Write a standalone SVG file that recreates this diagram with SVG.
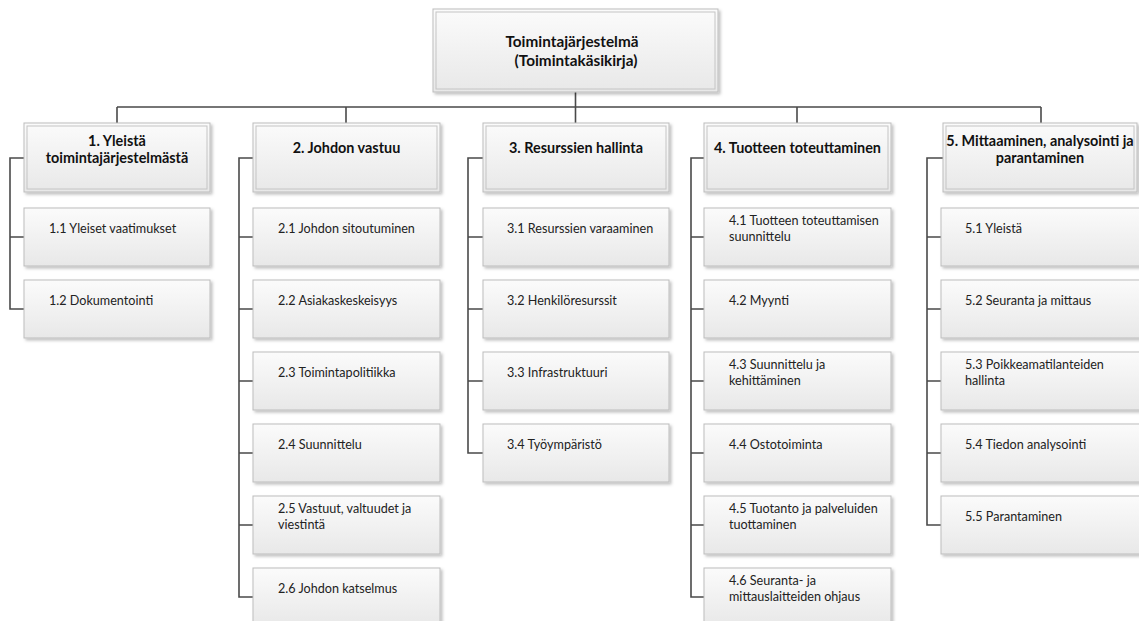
<svg xmlns="http://www.w3.org/2000/svg" width="1139" height="621" viewBox="0 0 1139 621">
  <defs>
    <linearGradient id="boxFill" x1="0" y1="0" x2="0" y2="1">
      <stop offset="0" stop-color="#fbfbfb"/>
      <stop offset="1" stop-color="#e8e8e8"/>
    </linearGradient>
    <filter id="shadow" x="-5%" y="-10%" width="115%" height="130%">
      <feDropShadow dx="2" dy="2" stdDeviation="1.6" flood-color="#000" flood-opacity="0.25"/>
    </filter>
    <style>
      .box { fill: url(#boxFill); stroke: #bdbdbd; stroke-width: 1; filter: url(#shadow); }
      .inner { fill: none; stroke: #c4c4c4; stroke-width: 1; }
      .conn { fill: none; stroke: #4a4a4a; stroke-width: 1.6; }
      .title { font-family: Lato, "Liberation Sans", sans-serif; font-weight: bold; font-size: 14.4px; fill: #111; text-anchor: middle; }
      .root { font-size: 15.3px; }
      .item { font-family: Lato, "Liberation Sans", sans-serif; font-size: 12.6px; fill: #222; }
    </style>
  </defs>
  <rect width="1139" height="621" fill="#ffffff"/>

  <!-- connectors -->
  <g id="connectors">
    <path class="conn" d="M575.5 92 V107 M117 107 H1041 M117 107 V123 M346 107 V123 M575.5 107 V123 M797 107 V123 M1041 107 V123"/>
    <path class="conn" d="M24 158 H10 V309 H24 M10 237 H24"/>
    <path class="conn" d="M253 158 H239 V597 H253 M239 237 H253 M239 309 H253 M239 381 H253 M239 453 H253 M239 525 H253"/>
    <path class="conn" d="M483 158 H468 V453 H483 M468 237 H483 M468 309 H483 M468 381 H483"/>
    <path class="conn" d="M704 158 H691 V597 H704 M691 237 H704 M691 309 H704 M691 381 H704 M691 453 H704 M691 525 H704"/>
    <path class="conn" d="M943 158 H927 V525 H941 M927 237 H941 M927 309 H941 M927 381 H941 M927 453 H941"/>
  </g>

  <!-- root -->
  <g id="root">
    <rect class="box" x="433" y="9" width="285" height="83"/>
    <rect class="inner" x="436" y="12" width="279" height="77"/>
    <text class="title root" x="572" y="47">Toimintajärjestelmä</text>
    <text class="title root" x="576" y="66">(Toimintakäsikirja)</text>
  </g>

  <!-- column 1 -->
  <g id="h1">
    <rect class="box" x="24" y="123" width="186" height="69"/>
    <rect class="inner" x="27" y="126" width="180" height="63"/>
    <text class="title" x="117" y="146">1. Yleistä</text>
    <text class="title" x="117" y="163">toimintajärjestelmästä</text>
  </g>
  <g id="n1-1">
    <rect class="box" x="24" y="208" width="186" height="58"/>
    <text class="item" x="49" y="233">1.1 Yleiset vaatimukset</text>
  </g>
  <g id="n1-2">
    <rect class="box" x="24" y="280" width="186" height="58"/>
    <text class="item" x="49" y="305">1.2 Dokumentointi</text>
  </g>

  <!-- column 2 -->
  <g id="h2">
    <rect class="box" x="253" y="123" width="187" height="69"/>
    <rect class="inner" x="256" y="126" width="181" height="63"/>
    <text class="title" x="346.5" y="153">2. Johdon vastuu</text>
  </g>
  <g id="n2-1">
    <rect class="box" x="253" y="208" width="187" height="58"/>
    <text class="item" x="278" y="233">2.1 Johdon sitoutuminen</text>
  </g>
  <g id="n2-2">
    <rect class="box" x="253" y="280" width="187" height="58"/>
    <text class="item" x="278" y="305">2.2 Asiakaskeskeisyys</text>
  </g>
  <g id="n2-3">
    <rect class="box" x="253" y="352" width="187" height="58"/>
    <text class="item" x="278" y="377">2.3 Toimintapolitiikka</text>
  </g>
  <g id="n2-4">
    <rect class="box" x="253" y="424" width="187" height="58"/>
    <text class="item" x="278" y="449">2.4 Suunnittelu</text>
  </g>
  <g id="n2-5">
    <rect class="box" x="253" y="496" width="187" height="58"/>
    <text class="item" x="278" y="513">2.5 Vastuut, valtuudet ja</text>
    <text class="item" x="278" y="529">viestintä</text>
  </g>
  <g id="n2-6">
    <rect class="box" x="253" y="568" width="187" height="58"/>
    <text class="item" x="278" y="593">2.6 Johdon katselmus</text>
  </g>

  <!-- column 3 -->
  <g id="h3">
    <rect class="box" x="483" y="123" width="186" height="69"/>
    <rect class="inner" x="486" y="126" width="180" height="63"/>
    <text class="title" x="576" y="153">3. Resurssien hallinta</text>
  </g>
  <g id="n3-1">
    <rect class="box" x="483" y="208" width="186" height="58"/>
    <text class="item" x="507" y="233">3.1 Resurssien varaaminen</text>
  </g>
  <g id="n3-2">
    <rect class="box" x="483" y="280" width="186" height="58"/>
    <text class="item" x="507" y="305">3.2 Henkilöresurssit</text>
  </g>
  <g id="n3-3">
    <rect class="box" x="483" y="352" width="186" height="58"/>
    <text class="item" x="507" y="377">3.3 Infrastruktuuri</text>
  </g>
  <g id="n3-4">
    <rect class="box" x="483" y="424" width="186" height="58"/>
    <text class="item" x="507" y="449">3.4 Työympäristö</text>
  </g>

  <!-- column 4 -->
  <g id="h4">
    <rect class="box" x="704" y="123" width="187" height="69"/>
    <rect class="inner" x="707" y="126" width="181" height="63"/>
    <text class="title" x="797.5" y="153">4. Tuotteen toteuttaminen</text>
  </g>
  <g id="n4-1">
    <rect class="box" x="704" y="208" width="187" height="58"/>
    <text class="item" x="729" y="225">4.1 Tuotteen toteuttamisen</text>
    <text class="item" x="729" y="241">suunnittelu</text>
  </g>
  <g id="n4-2">
    <rect class="box" x="704" y="280" width="187" height="58"/>
    <text class="item" x="729" y="305">4.2 Myynti</text>
  </g>
  <g id="n4-3">
    <rect class="box" x="704" y="352" width="187" height="58"/>
    <text class="item" x="729" y="369">4.3 Suunnittelu ja</text>
    <text class="item" x="729" y="385">kehittäminen</text>
  </g>
  <g id="n4-4">
    <rect class="box" x="704" y="424" width="187" height="58"/>
    <text class="item" x="729" y="449">4.4 Ostotoiminta</text>
  </g>
  <g id="n4-5">
    <rect class="box" x="704" y="496" width="187" height="58"/>
    <text class="item" x="729" y="513">4.5 Tuotanto ja palveluiden</text>
    <text class="item" x="729" y="529">tuottaminen</text>
  </g>
  <g id="n4-6">
    <rect class="box" x="704" y="568" width="187" height="58"/>
    <text class="item" x="729" y="585">4.6 Seuranta- ja</text>
    <text class="item" x="729" y="601">mittauslaitteiden ohjaus</text>
  </g>

  <!-- column 5 -->
  <g id="h5">
    <rect class="box" x="943" y="123" width="194" height="69"/>
    <rect class="inner" x="946" y="126" width="188" height="63"/>
    <text class="title" x="1040" y="146">5. Mittaaminen, analysointi ja</text>
    <text class="title" x="1040" y="163">parantaminen</text>
  </g>
  <g id="n5-1">
    <rect class="box" x="941" y="208" width="210" height="58"/>
    <text class="item" x="965" y="233">5.1 Yleistä</text>
  </g>
  <g id="n5-2">
    <rect class="box" x="941" y="280" width="210" height="58"/>
    <text class="item" x="965" y="305">5.2 Seuranta ja mittaus</text>
  </g>
  <g id="n5-3">
    <rect class="box" x="941" y="352" width="210" height="58"/>
    <text class="item" x="965" y="369">5.3 Poikkeamatilanteiden</text>
    <text class="item" x="965" y="385">hallinta</text>
  </g>
  <g id="n5-4">
    <rect class="box" x="941" y="424" width="210" height="58"/>
    <text class="item" x="965" y="449">5.4 Tiedon analysointi</text>
  </g>
  <g id="n5-5">
    <rect class="box" x="941" y="496" width="210" height="58"/>
    <text class="item" x="965" y="521">5.5 Parantaminen</text>
  </g>
</svg>
